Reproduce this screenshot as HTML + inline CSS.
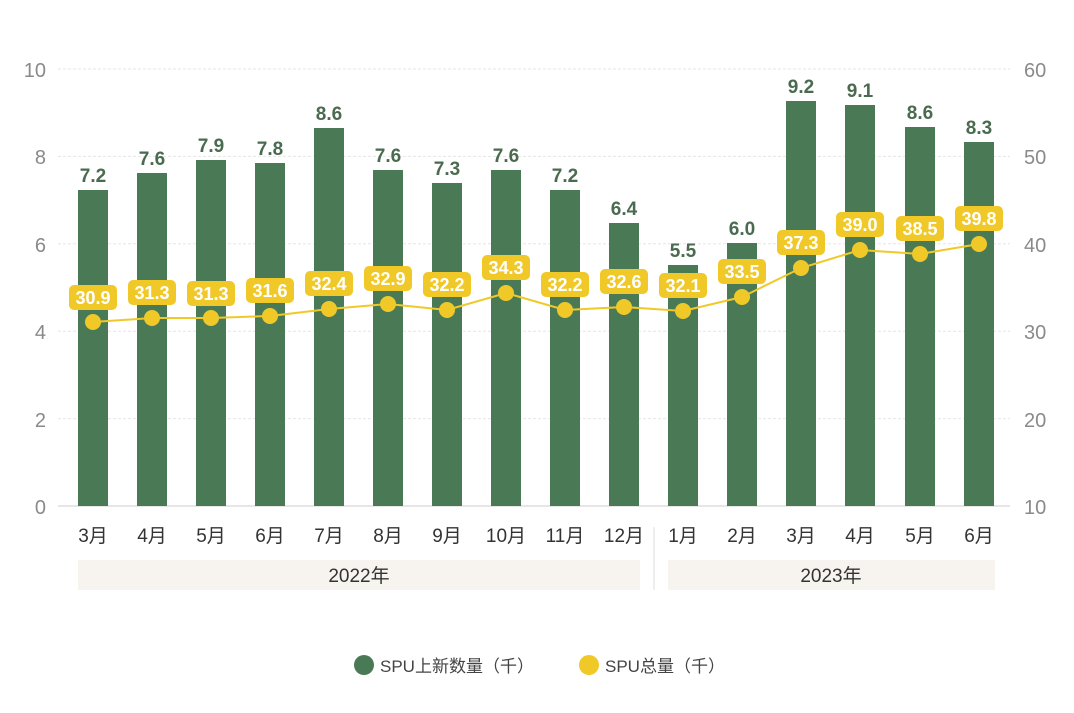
<!DOCTYPE html>
<html><head><meta charset="utf-8"><style>
body{margin:0;background:#fff;}
svg{display:block;font-family:"Liberation Sans","Noto Sans CJK SC",sans-serif;}
.ax{font-size:20px;fill:#8a8a8a;}
.m{font-size:19px;fill:#333;text-anchor:middle;}
.v{font-size:19px;font-weight:bold;fill:#4a6b50;text-anchor:middle;}
.l{font-size:18px;font-weight:bold;fill:#fff;text-anchor:middle;}
</style></head><body>
<svg width="1074" height="713" viewBox="0 0 1074 713">
<g stroke="#e6e6e6" stroke-dasharray="3,2">
<line x1="58" y1="69" x2="1010" y2="69"/><line x1="58" y1="156.4" x2="1010" y2="156.4"/>
<line x1="58" y1="243.8" x2="1010" y2="243.8"/><line x1="58" y1="331.2" x2="1010" y2="331.2"/>
<line x1="58" y1="418.6" x2="1010" y2="418.6"/>
</g>
<line x1="58" y1="506" x2="1010" y2="506" stroke="#ccc"/>
<g class="ax" text-anchor="end">
<text x="46" y="77">10</text><text x="46" y="164">8</text><text x="46" y="252">6</text>
<text x="46" y="339">4</text><text x="46" y="427">2</text><text x="46" y="514">0</text>
</g>
<g class="ax">
<text x="1024" y="77">60</text><text x="1024" y="164">50</text><text x="1024" y="252">40</text>
<text x="1024" y="339">30</text><text x="1024" y="427">20</text><text x="1024" y="514">10</text>
</g>
<g fill="#4a7a55">
<rect x="78" y="190" width="30" height="316"/>
<rect x="137" y="173" width="30" height="333"/>
<rect x="196" y="160" width="30" height="346"/>
<rect x="255" y="163" width="30" height="343"/>
<rect x="314" y="128" width="30" height="378"/>
<rect x="373" y="170" width="30" height="336"/>
<rect x="432" y="183" width="30" height="323"/>
<rect x="491" y="170" width="30" height="336"/>
<rect x="550" y="190" width="30" height="316"/>
<rect x="609" y="223" width="30" height="283"/>
<rect x="668" y="265" width="30" height="241"/>
<rect x="727" y="243" width="30" height="263"/>
<rect x="786" y="101" width="30" height="405"/>
<rect x="845" y="105" width="30" height="401"/>
<rect x="905" y="127" width="30" height="379"/>
<rect x="964" y="142" width="30" height="364"/>
</g>
<g class="v">
<text x="93" y="182">7.2</text><text x="152" y="165">7.6</text><text x="211" y="152">7.9</text>
<text x="270" y="155">7.8</text><text x="329" y="120">8.6</text><text x="388" y="162">7.6</text>
<text x="447" y="175">7.3</text><text x="506" y="162">7.6</text><text x="565" y="182">7.2</text>
<text x="624" y="215">6.4</text><text x="683" y="257">5.5</text><text x="742" y="235">6.0</text>
<text x="801" y="93">9.2</text><text x="860" y="97">9.1</text><text x="920" y="119">8.6</text>
<text x="979" y="134">8.3</text>
</g>
<polyline fill="none" stroke="#f0c929" stroke-width="2" points="93,322 152,318 211,318 270,316 329,309 388,304 447,310 506,293 565,310 624,307 683,311 742,297 801,268 860,250 920,254 979,244"/>
<g fill="#f0c929">
<circle cx="93" cy="322" r="8"/><circle cx="152" cy="318" r="8"/><circle cx="211" cy="318" r="8"/>
<circle cx="270" cy="316" r="8"/><circle cx="329" cy="309" r="8"/><circle cx="388" cy="304" r="8"/>
<circle cx="447" cy="310" r="8"/><circle cx="506" cy="293" r="8"/><circle cx="565" cy="310" r="8"/>
<circle cx="624" cy="307" r="8"/><circle cx="683" cy="311" r="8"/><circle cx="742" cy="297" r="8"/>
<circle cx="801" cy="268" r="8"/><circle cx="860" cy="250" r="8"/><circle cx="920" cy="254" r="8"/>
<circle cx="979" cy="244" r="8"/>
<rect x="69" y="285" width="48" height="25" rx="5"/><rect x="128" y="280" width="48" height="25" rx="5"/>
<rect x="187" y="281" width="48" height="25" rx="5"/><rect x="246" y="278" width="48" height="25" rx="5"/>
<rect x="305" y="271" width="48" height="25" rx="5"/><rect x="364" y="266" width="48" height="25" rx="5"/>
<rect x="423" y="272" width="48" height="25" rx="5"/><rect x="482" y="255" width="48" height="25" rx="5"/>
<rect x="541" y="272" width="48" height="25" rx="5"/><rect x="600" y="269" width="48" height="25" rx="5"/>
<rect x="659" y="273" width="48" height="25" rx="5"/><rect x="718" y="259" width="48" height="25" rx="5"/>
<rect x="777" y="230" width="48" height="25" rx="5"/><rect x="836" y="212" width="48" height="25" rx="5"/>
<rect x="896" y="216" width="48" height="25" rx="5"/><rect x="955" y="206" width="48" height="25" rx="5"/>
</g>
<g class="l">
<text x="93" y="304">30.9</text><text x="152" y="299">31.3</text><text x="211" y="300">31.3</text>
<text x="270" y="297">31.6</text><text x="329" y="290">32.4</text><text x="388" y="285">32.9</text>
<text x="447" y="291">32.2</text><text x="506" y="274">34.3</text><text x="565" y="291">32.2</text>
<text x="624" y="288">32.6</text><text x="683" y="292">32.1</text><text x="742" y="278">33.5</text>
<text x="801" y="249">37.3</text><text x="860" y="231">39.0</text><text x="920" y="235">38.5</text>
<text x="979" y="225">39.8</text>
</g>
<g class="m">
<text x="93" y="542">3月</text><text x="152" y="542">4月</text><text x="211" y="542">5月</text>
<text x="270" y="542">6月</text><text x="329" y="542">7月</text><text x="388" y="542">8月</text>
<text x="447" y="542">9月</text><text x="506" y="542">10月</text><text x="565" y="542">11月</text>
<text x="624" y="542">12月</text><text x="683" y="542">1月</text><text x="742" y="542">2月</text>
<text x="801" y="542">3月</text><text x="860" y="542">4月</text><text x="920" y="542">5月</text>
<text x="979" y="542">6月</text>
</g>
<line x1="654" y1="527" x2="654" y2="590" stroke="#ddd"/>
<rect x="78" y="560" width="562" height="30" fill="#f7f4ef"/>
<rect x="668" y="560" width="327" height="30" fill="#f7f4ef"/>
<text class="m" x="359" y="582">2022年</text>
<text class="m" x="831" y="582">2023年</text>
<circle cx="364" cy="665" r="10" fill="#4a7a55"/>
<text x="380" y="672" font-size="17" fill="#444">SPU上新数量（千）</text>
<circle cx="589" cy="665" r="10" fill="#f0c929"/>
<text x="605" y="672" font-size="17" fill="#444">SPU总量（千）</text>
</svg>
</body></html>
